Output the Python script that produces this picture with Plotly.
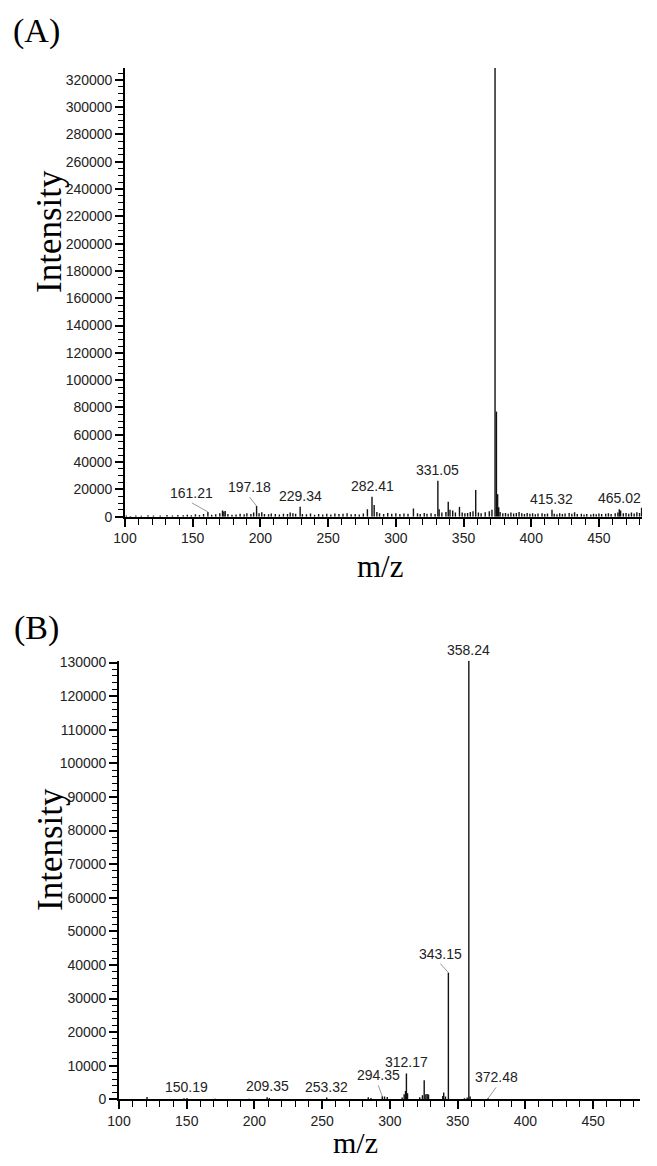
import plotly.graph_objects as go

# Page body has an 8px default margin; the figure is sized to fit inside the 657x1166 window.
OFF = 8
W, H = 641, 1150

# ---------------- Panel A data ----------------
A_noise_mz = [101, 104, 108, 112, 117, 121, 126, 131, 135, 139, 143, 146, 149, 152, 155, 158,
              164, 167, 170, 172, 173, 174, 176, 179, 182, 185, 188, 190, 193, 195, 199, 201,
              203, 206, 208, 211, 214, 217, 220, 222, 224, 226, 231, 234, 237, 240, 243, 246,
              249, 252, 255, 258, 261, 264, 267, 270, 273, 276, 279, 284, 286, 288, 291, 294,
              297, 300, 303, 306, 309, 313, 316, 318, 321, 323, 326, 329, 332, 334, 337, 338.7,
              340, 342, 344, 347, 349, 351, 353, 355, 357, 361, 363, 366, 369, 371, 376, 377,
              379, 381, 383, 385, 387, 389, 391, 393, 395, 397, 399, 401, 403, 405, 408, 410,
              412, 417, 419, 421, 423, 425, 428, 430, 432, 434, 437, 439, 441, 444, 446, 448,
              450, 452, 455, 457, 459, 462, 464, 466, 468, 470, 472, 474, 476, 478, 480, 481.5]
A_noise_int = [800, 600, 900, 700, 1000, 800, 900, 1200, 800, 1300, 1000, 1500, 1100, 1800, 1300, 2000,
               1500, 1800, 2500, 4500, 3800, 4200, 2000, 1400, 1700, 2200, 1800, 2500, 2000, 3000, 2500, 3200,
               2000, 1800, 2300, 2000, 1700, 2200, 1900, 3000, 2500, 2200, 2000, 1800, 2400, 1500, 2000, 1700,
               2100, 1600, 2300, 1900, 2200, 2600, 1800, 2000, 1700, 2400, 5500, 8500, 3500, 2500, 2000, 2800,
               2200, 2600, 1900, 2400, 2100, 6000, 2500, 2000, 2800, 2200, 2600, 2000, 5500, 3000, 3500, 11000,
               5000, 4500, 3000, 7200, 3000, 2500, 2800, 3500, 4000, 3000, 2500, 3200, 4000, 5000, 7000, 3500,
               2500, 2800, 2200, 3000, 2400, 2800, 3500, 2500, 2000, 2700, 2200, 2500, 1800, 2300, 2600, 1900,
               2400, 2200, 1800, 2500, 2000, 2300, 2800, 2100, 3200, 2000, 2200, 1700, 2000, 1600, 2100, 1800,
               2300, 1900, 2200, 2500, 2000, 2600, 3000, 4500, 2500, 2800, 2200, 3000, 2400, 3200, 2800, 6500]
A_peak_mz = [161.21, 197.18, 229.34, 282.41, 331.05, 359.0, 373.27, 374.3, 375.2, 415.32, 465.02]
A_peak_int = [3500, 7800, 7300, 14700, 26400, 19500, 329000, 77000, 16500, 5000, 5500]
A_labels = ["161.21", "197.18", "229.34", "282.41", "331.05", "", "373.27", "", "", "415.32", "465.02"]

# ---------------- Panel B data ----------------
B_peak_mz = [120.7, 148, 150.19, 171, 196, 209.35, 211, 253.32, 284, 286, 294.35, 296, 298, 309,
             310.5, 311.5, 312.17, 313, 322, 324, 325.3, 326.5, 327.5, 328.5, 339, 339.7, 341,
             343.15, 355, 357, 358.24, 359.2, 372.48]
B_peak_int = [700, 300, 400, 200, 200, 600, 400, 500, 600, 400, 900, 800, 700, 500,
              1500, 2500, 7700, 1800, 600, 1200, 5700, 1500, 1600, 1400, 1000, 2000, 800,
              37700, 300, 500, 130500, 800, 300]
B_labels = {"150.19": 150.19, "209.35": 209.35, "253.32": 253.32, "294.35": 294.35,
            "312.17": 312.17, "343.15": 343.15, "358.24": 358.24, "372.48": 372.48}

A_xrange = [100, 481.8]
A_yrange = [0, 328700]
B_xrange = [100, 484.6]
B_yrange = [0, 130540]


def sticks(mz, inten):
    xs, ys = [], []
    for m, v in zip(mz, inten):
        xs += [m, m, None]
        ys += [0, v, None]
    return xs, ys


fig = go.Figure()

ax_, ay_ = sticks(A_noise_mz + A_peak_mz, A_noise_int + A_peak_int)
fig.add_trace(go.Scatter(x=ax_, y=ay_, mode="lines", line=dict(color="#111", width=1.4),
                         xaxis="x", yaxis="y", hoverinfo="skip", showlegend=False))
bx_, by_ = sticks(B_peak_mz, B_peak_int)
fig.add_trace(go.Scatter(x=bx_, y=by_, mode="lines", line=dict(color="#111", width=1.4),
                         xaxis="x2", yaxis="y2", hoverinfo="skip", showlegend=False))


def px2paper_x(px):
    return (px - OFF) / W


def px2paper_y(py):
    return 1 - (py - OFF) / H


tickfont = dict(family="Liberation Sans, Arial", size=14, color="#222")

xcommon = dict(showline=True, linecolor="black", linewidth=1.6, ticks="outside", ticklen=8,
               tickwidth=1.6, tickcolor="black", tick0=100, dtick=50, showgrid=False,
               zeroline=False, tickfont=tickfont, automargin=False,
               minor=dict(ticks="outside", dtick=10, ticklen=6, tickwidth=1.3, tickcolor="black",
                          showgrid=False))
ycommon = dict(showline=True, linecolor="black", linewidth=1.6, ticks="outside", ticklen=8,
               tickwidth=1.6, tickcolor="black", tick0=0, showgrid=False, zeroline=False,
               tickformat="d", tickfont=tickfont, automargin=False)

fig.update_layout(
    width=W, height=H, margin=dict(l=0, r=0, t=0, b=0, autoexpand=False),
    paper_bgcolor="white", plot_bgcolor="white",
    xaxis=dict(domain=[px2paper_x(125), px2paper_x(642)], range=A_xrange, anchor="y", **xcommon),
    yaxis=dict(domain=[px2paper_y(516.7), px2paper_y(68)], range=A_yrange, anchor="x", dtick=20000,
               minor=dict(ticks="outside", dtick=5000, ticklen=5, tickwidth=1.3, tickcolor="black",
                          showgrid=False), **ycommon),
    xaxis2=dict(domain=[px2paper_x(119), px2paper_x(640)], range=B_xrange, anchor="y2", **xcommon),
    yaxis2=dict(domain=[px2paper_y(1099.3), px2paper_y(660.7)], range=B_yrange, anchor="x2", dtick=10000,
                minor=dict(ticks="outside", dtick=2000, ticklen=5, tickwidth=1.3, tickcolor="black",
                           showgrid=False), **ycommon),
)

lblfont = dict(family="Liberation Sans, Arial", size=14, color="#222")
annots = []

# Panel A peak labels (offsets in pixels for leader-style labels)
A_offsets = {"161.21": (-16, -9), "197.18": (-7, -9)}
for m, v, t in zip(A_peak_mz, A_peak_int, A_labels):
    if not t:
        continue
    if t in A_offsets:
        dx, dy = A_offsets[t]
        annots.append(dict(x=m, y=v, xref="x", yref="y", text=t, showarrow=True, arrowhead=0,
                           arrowwidth=1, arrowcolor="#999", ax=dx, ay=dy, font=lblfont,
                           yanchor="bottom", standoff=0))
    else:
        annots.append(dict(x=m, y=v, xref="x", yref="y", text=t, showarrow=False,
                           yanchor="bottom", yshift=1, font=lblfont))

# Panel B peak labels
B_lookup = dict(zip(B_peak_mz, B_peak_int))
B_offsets = {"294.35": (-4, -11), "343.15": (-8, -9), "372.48": (8, -11)}
for t, m in B_labels.items():
    v = B_lookup[m]
    if t in B_offsets:
        dx, dy = B_offsets[t]
        annots.append(dict(x=m, y=v, xref="x2", yref="y2", text=t, showarrow=True, arrowhead=0,
                           arrowwidth=1, arrowcolor="#999", ax=dx, ay=dy, font=lblfont,
                           yanchor="bottom", standoff=0))
    else:
        annots.append(dict(x=m, y=v, xref="x2", yref="y2", text=t, showarrow=False,
                           yanchor="bottom", yshift=1, font=lblfont))

serif = "Liberation Serif, Times New Roman"
titles = [
    ("(A)", 36, 31, 0, 34),
    ("(B)", 36, 628, 0, 34),
    ("Intensity", 50, 232, -90, 35),
    ("Intensity", 50, 850, -90, 35),
    ("m/z", 380, 566, 0, 31),
    ("m/z", 355, 1142, 0, 30),
]
for t, x, y, ang, sz in titles:
    annots.append(dict(x=px2paper_x(x), y=px2paper_y(y), xref="paper", yref="paper", text=t,
                       showarrow=False, textangle=ang, xanchor="center", yanchor="middle",
                       font=dict(family=serif, size=sz, color="black")))

fig.update_layout(annotations=annots)
fig.write_html("out.html")
